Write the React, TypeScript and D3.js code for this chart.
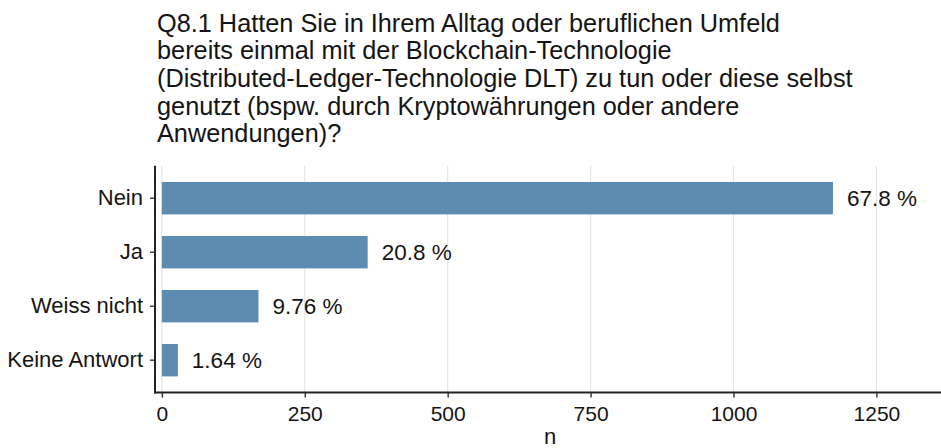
import React, { useEffect, useRef } from 'react'
import * as d3 from 'd3'

const categories = ['Nein', 'Ja', 'Weiss nicht', 'Keine Antwort']
const counts = [1174, 360, 169, 28]
const percentLabels = ['67.8 %', '20.8 %', '9.76 %', '1.64 %']
const xTicks = [0, 250, 500, 750, 1000, 1250]
const titleLines = [
  'Q8.1 Hatten Sie in Ihrem Alltag oder beruflichen Umfeld',
  'bereits einmal mit der Blockchain-Technologie',
  '(Distributed-Ledger-Technologie DLT) zu tun oder diese selbst',
  'genutzt (bspw. durch Kryptowährungen oder andere',
  'Anwendungen)?'
]

const FONT = '"Liberation Sans", Arial, Helvetica, sans-serif'

function App() {
  const ref = useRef<SVGSVGElement>(null)

  useEffect(() => {
    document.body.style.margin = '0'
    drawChart(ref.current as SVGSVGElement, 941, 448)
  }, [])

  return <svg ref={ref} style={{ display: 'block' }}></svg>
}

/**
 * horizontal bar chart, ggplot look
 */
function drawChart(node: SVGSVGElement, w: number, h: number) {
  const panel = { left: 155, right: 945, top: 165.8, bottom: 392.6 }

  const svg = d3.select(node)
  svg.selectAll('*').remove()
  svg.attr('width', w).attr('height', h).style('font-family', FONT)

  svg.append('rect').attr('width', w).attr('height', h).attr('fill', '#fff')

  // title
  svg.append('g')
    .selectAll('text')
    .data(titleLines)
    .enter()
    .append('text')
    .attr('x', 157)
    .attr('y', (d, i) => 31.7 + i * 27.6)
    .attr('font-size', 25.3)
    .attr('fill', '#141414')
    .text(d => d)

  // scales
  const x = d3.scaleLinear().domain([-12, 1370]).range([panel.left, panel.right])
  const y = d3.scaleBand<string>()
    .domain(categories)
    .range([panel.top, panel.bottom])
    .paddingInner(0.4)
    .paddingOuter(0.3)

  // vertical grid
  svg.append('g')
    .selectAll('line')
    .data(xTicks)
    .enter()
    .append('line')
    .attr('x1', d => x(d))
    .attr('x2', d => x(d))
    .attr('y1', panel.top)
    .attr('y2', panel.bottom)
    .attr('stroke', '#e3e3e3')
    .attr('stroke-width', 1.1)

  // bars
  svg.append('g')
    .selectAll('rect')
    .data(counts)
    .enter()
    .append('rect')
    .attr('x', x(0))
    .attr('y', (d, i) => y(categories[i]) as number)
    .attr('width', d => x(d) - x(0))
    .attr('height', y.bandwidth())
    .attr('fill', '#5e8cb0')

  // percent labels
  svg.append('g')
    .selectAll('text')
    .data(counts)
    .enter()
    .append('text')
    .attr('x', d => x(d) + 14)
    .attr('y', (d, i) => (y(categories[i]) as number) + y.bandwidth() / 2)
    .attr('dy', '0.36em')
    .attr('font-size', 22.5)
    .attr('fill', '#141414')
    .text((d, i) => percentLabels[i])

  // x axis
  const xAxis = d3.axisBottom(x)
    .tickValues(xTicks)
    .tickFormat(d3.format('d'))
    .tickSize(5)
    .tickPadding(8)
    .tickSizeOuter(0)
  const gx = svg.append('g')
    .attr('transform', 'translate(0,' + panel.bottom + ')')
    .call(xAxis)
  gx.select('.domain').remove()
  gx.selectAll('.tick line').attr('stroke', '#333').attr('stroke-width', 1.4)
  gx.selectAll('.tick text')
    .attr('font-size', 21)
    .attr('font-family', FONT)
    .attr('fill', '#141414')
  gx.append('line')
    .attr('x1', panel.left - 1)
    .attr('x2', w)
    .attr('y1', 0)
    .attr('y2', 0)
    .attr('stroke', '#222')
    .attr('stroke-width', 2)

  // y axis
  const yAxis = d3.axisLeft(y).tickSize(5).tickPadding(7).tickSizeOuter(0)
  const gy = svg.append('g')
    .attr('transform', 'translate(' + panel.left + ',0)')
    .call(yAxis)
  gy.select('.domain').remove()
  gy.selectAll('.tick line').attr('stroke', '#333').attr('stroke-width', 1.4)
  gy.selectAll('.tick text')
    .attr('font-size', 22)
    .attr('font-family', FONT)
    .attr('fill', '#141414')
  gy.append('line')
    .attr('x1', 0)
    .attr('x2', 0)
    .attr('y1', panel.top)
    .attr('y2', panel.bottom + 1)
    .attr('stroke', '#222')
    .attr('stroke-width', 2)

  // x axis title
  svg.append('text')
    .attr('x', (panel.left + panel.right) / 2)
    .attr('y', 444)
    .attr('text-anchor', 'middle')
    .attr('font-size', 22)
    .attr('fill', '#141414')
    .text('n')
}

export default App
